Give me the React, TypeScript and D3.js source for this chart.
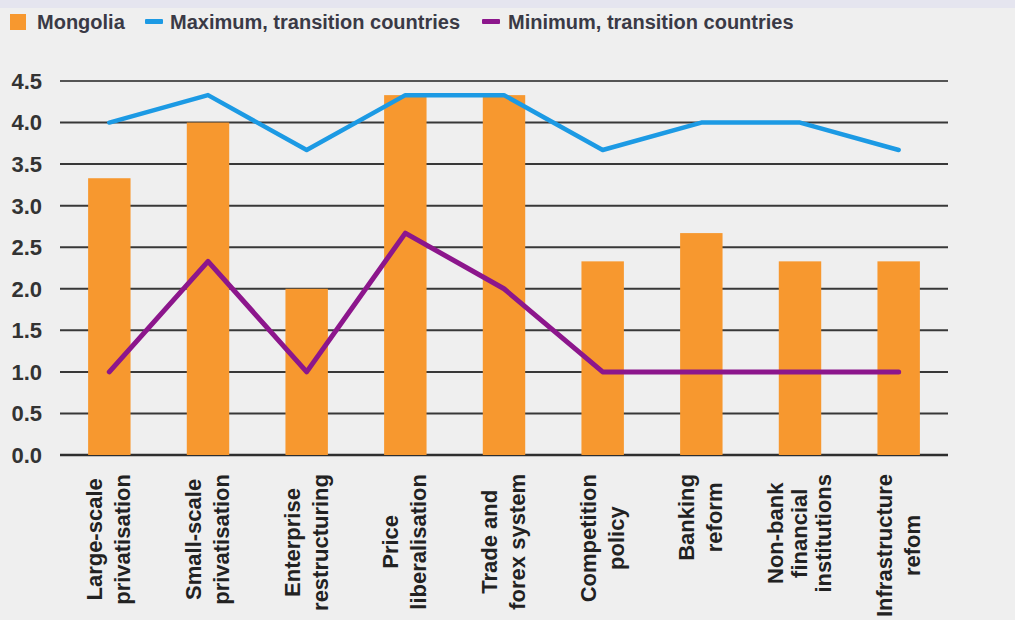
import React, { useEffect, useRef } from 'react';
import * as d3 from 'd3';

const categories = [
  'Large-scale\nprivatisation',
  'Small-scale\nprivatisation',
  'Enterprise\nrestructuring',
  'Price\nliberalisation',
  'Trade and\nforex system',
  'Competition\npolicy',
  'Banking\nreform',
  'Non-bank\nfinancial\ninstitutions',
  'Infrastructure\nrefom',
];
const mongolia = [3.33, 4.0, 2.0, 4.33, 4.33, 2.33, 2.67, 2.33, 2.33];
const maxTransition = [4.0, 4.33, 3.67, 4.33, 4.33, 3.67, 4.0, 4.0, 3.67];
const minTransition = [1.0, 2.33, 1.0, 2.67, 2.0, 1.0, 1.0, 1.0, 1.0];
const yTicks = [0, 0.5, 1.0, 1.5, 2.0, 2.5, 3.0, 3.5, 4.0, 4.5];
const seriesNames = ['Mongolia', 'Maximum, transition countries', 'Minimum, transition countries'];

const W = 1015;
const H = 620;
const FONT = '"Liberation Sans", Arial, sans-serif';
const ORANGE = '#f7982f';
const BLUE = '#1c9ae4';
const PURPLE = '#8c168c';

export default function App() {
  const ref = useRef<SVGSVGElement | null>(null);

  useEffect(() => {
    const svg = d3.select(ref.current);
    svg.selectAll('*').remove();

    svg.append('rect').attr('width', W).attr('height', H).attr('fill', '#efefef');
    svg.append('rect').attr('width', W).attr('height', 8).attr('fill', '#e5e5ef');

    const left = 60, right = 948, top = 81, bottom = 455;
    const x = d3.scalePoint<number>().domain(d3.range(categories.length)).range([left, right]).padding(0.5);
    const y = d3.scaleLinear().domain([0, 4.5]).range([bottom, top]);
    const bw = x.step() * 0.43;

    // gridlines
    svg.append('g').selectAll('line').data(yTicks).join('line')
      .attr('x1', left).attr('x2', right)
      .attr('y1', d => y(d)).attr('y2', d => y(d))
      .attr('stroke', d => (d === 0 ? '#2e2e2e' : d === 4.5 ? '#555' : '#383838'))
      .attr('stroke-width', d => (d === 0 ? 2.5 : 2));

    // y tick labels
    svg.append('g').selectAll('text').data(yTicks).join('text')
      .attr('x', 42).attr('y', d => y(d)).attr('dy', '0.36em')
      .attr('text-anchor', 'end')
      .attr('font-family', FONT).attr('font-weight', 'bold').attr('font-size', 22)
      .attr('fill', '#333')
      .text(d => d.toFixed(1));

    // bars
    svg.append('g').selectAll('rect').data(mongolia).join('rect')
      .attr('x', (_, i) => (x(i) as number) - bw / 2)
      .attr('width', bw)
      .attr('y', d => y(d))
      .attr('height', d => y(0) - y(d))
      .attr('fill', ORANGE);

    // lines
    const line = d3.line<number>().x((_, i) => x(i) as number).y(d => y(d));
    svg.append('path').datum(maxTransition).attr('d', line)
      .attr('fill', 'none').attr('stroke', BLUE).attr('stroke-width', 4.5)
      .attr('stroke-linejoin', 'round').attr('stroke-linecap', 'round');
    svg.append('path').datum(minTransition).attr('d', line)
      .attr('fill', 'none').attr('stroke', PURPLE).attr('stroke-width', 5)
      .attr('stroke-linejoin', 'round').attr('stroke-linecap', 'round');

    // x labels
    const labelTop = 474;
    categories.forEach((cat, i) => {
      const lines = cat.split('\n');
      const n = lines.length;
      const lh = n >= 3 ? 24 : 28;
      const g = svg.append('g')
        .attr('transform', `translate(${x(i)},${labelTop}) rotate(-90)`);
      const texts = g.selectAll('text').data(lines).join('text')
        .attr('y', (_, j) => (j - (n - 1) / 2) * lh + 7)
        .attr('text-anchor', 'middle')
        .attr('font-family', FONT).attr('font-weight', 'bold').attr('font-size', 22)
        .attr('fill', '#222')
        .text(d => d);
      let maxLen = 0;
      texts.each(function () {
        const l = (this as SVGTextElement).getComputedTextLength();
        if (l > maxLen) maxLen = l;
      });
      texts.attr('x', -maxLen / 2);
    });

    // legend
    const lg = svg.append('g');
    const legendItems = [
      { name: seriesNames[0], color: ORANGE, type: 'box', mx: 10, tx: 37 },
      { name: seriesNames[1], color: BLUE, type: 'dash', mx: 145, tx: 170 },
      { name: seriesNames[2], color: PURPLE, type: 'dash', mx: 482, tx: 508 },
    ];
    legendItems.forEach(it => {
      if (it.type === 'box') {
        lg.append('rect').attr('x', it.mx).attr('y', 14).attr('width', 16).attr('height', 16).attr('fill', it.color);
      } else {
        lg.append('rect').attr('x', it.mx).attr('y', 19).attr('width', 18).attr('height', 5).attr('rx', 1).attr('fill', it.color);
      }
      lg.append('text').attr('x', it.tx).attr('y', 29)
        .attr('font-family', FONT).attr('font-weight', 'bold').attr('font-size', 20)
        .attr('fill', '#3a3a46')
        .text(it.name);
    });
  }, []);

  return (
    <svg
      ref={ref}
      width={W}
      height={H}
      style={{ position: 'fixed', left: 0, top: 0, display: 'block' }}
    />
  );
}
